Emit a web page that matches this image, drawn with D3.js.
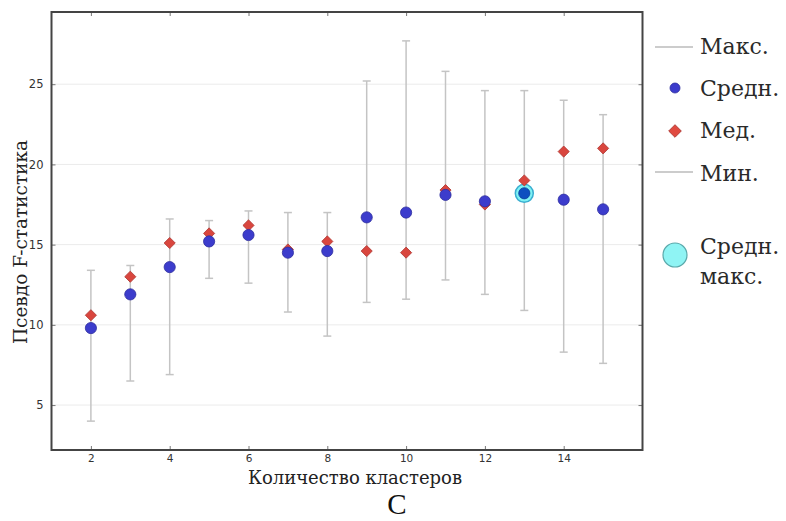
<!DOCTYPE html>
<html><head><meta charset="utf-8">
<script src="https://cdn.jsdelivr.net/npm/d3@7"></script>
<style>body{margin:0;background:#fff}svg{display:block}</style>
</head><body>
<svg id="c" width="786" height="521"></svg>
<script>
const clusters = [2,3,4,5,6,7,8,9,10,11,12,13,14,15];
const maxVals  = [13.4,13.7,16.6,16.5,17.1,17.0,17.0,25.2,27.7,25.8,24.6,24.6,24.0,23.1];
const minVals  = [4.0,6.5,6.9,12.9,12.6,10.8,9.3,11.4,11.6,12.8,11.9,10.9,8.3,7.6];
const meanVals = [9.8,11.9,13.6,15.2,15.6,14.5,14.6,16.7,17.0,18.1,17.7,18.2,17.8,17.2];
const medVals  = [10.6,13.0,15.1,15.7,16.2,14.7,15.2,14.6,14.5,18.4,17.5,19.0,20.8,21.0];
const bestK = 13;
const xTicks = [2,4,6,8,10,12,14];
const yTicks = [5,10,15,20,25];
const legendLabels = ["Макс.","Средн.","Мед.","Мин.","Средн.","макс."];

const svg = d3.select("#c");
const L=51.5, R=642.5, T=12, B=450;
const x = d3.scaleLinear().domain([1,16]).range([L,R]);
const y = d3.scaleLinear().domain([2.2,29.5]).range([B,T]);

// grid
svg.append("g").selectAll("line").data(yTicks).join("line")
  .attr("x1",L).attr("x2",R).attr("y1",d=>y(d)).attr("y2",d=>y(d))
  .attr("stroke","#ebebeb").attr("stroke-width",1);

// axes with inward ticks
const tickStyle = g => { g.select(".domain").remove(); g.selectAll(".tick line").attr("stroke","#777"); };
svg.append("g").attr("transform",`translate(0,${B})`)
  .call(d3.axisBottom(x).tickValues(xTicks).tickSize(-4).tickPadding(5).tickFormat(d3.format("d")))
  .call(tickStyle).call(g=>g.selectAll("text").attr("font-family","DejaVu Sans").attr("font-size",10.5).attr("fill","#333"));
svg.append("g").attr("transform",`translate(0,${T})`)
  .call(d3.axisTop(x).tickValues(xTicks).tickSize(-4).tickFormat(""))
  .call(tickStyle);
svg.append("g").attr("transform",`translate(${L},0)`)
  .call(d3.axisLeft(y).tickValues(yTicks).tickSize(-4).tickPadding(8).tickFormat(d3.format("d")))
  .call(tickStyle).call(g=>g.selectAll("text").attr("font-family","DejaVu Sans").attr("font-size",11.5).attr("fill","#333"));
svg.append("g").attr("transform",`translate(${R},0)`)
  .call(d3.axisRight(y).tickValues(yTicks).tickSize(-4).tickFormat(""))
  .call(tickStyle);

// frame
svg.append("rect").attr("x",L).attr("y",T).attr("width",R-L).attr("height",B-T)
  .attr("fill","none").attr("stroke","#444").attr("stroke-width",2);

const data = clusters.map((k,i)=>({k,max:maxVals[i],min:minVals[i],mean:meanVals[i],med:medVals[i]}));

// error bars
const eb = svg.append("g").attr("stroke","#c4c4c4").attr("stroke-width",1.5);
eb.selectAll(".v").data(data).join("line")
  .attr("x1",d=>x(d.k)).attr("x2",d=>x(d.k)).attr("y1",d=>y(d.max)).attr("y2",d=>y(d.min));
eb.selectAll(".t").data(data).join("line")
  .attr("x1",d=>x(d.k)-4).attr("x2",d=>x(d.k)+4).attr("y1",d=>y(d.max)).attr("y2",d=>y(d.max));
eb.selectAll(".b").data(data).join("line")
  .attr("x1",d=>x(d.k)-4).attr("x2",d=>x(d.k)+4).attr("y1",d=>y(d.min)).attr("y2",d=>y(d.min));

// highlight
const best = data.find(d=>d.k===bestK);
svg.append("circle").attr("cx",x(best.k)).attr("cy",y(best.mean)).attr("r",9)
  .attr("fill","#7ff2f4").attr("stroke","#3aaed0").attr("stroke-width",1.5);

// medians (diamonds)
svg.append("g").selectAll("path").data(data).join("path")
  .attr("d", d3.symbol().type(d3.symbolSquare).size(62))
  .attr("transform",d=>`translate(${x(d.k)},${y(d.med)}) rotate(45)`)
  .attr("fill","#d9463e").attr("stroke","#b03a35").attr("stroke-width",0.8);

// means (circles)
svg.append("g").selectAll("circle").data(data).join("circle")
  .attr("cx",d=>x(d.k)).attr("cy",d=>y(d.mean)).attr("r",5.6)
  .attr("fill",d=>d.k===bestK?"#0d4fc0":"#3c3ccc")
  .attr("stroke",d=>d.k===bestK?"#0a3d99":"#2d2d9e").attr("stroke-width",0.8);

// axis labels
svg.append("text").attr("x",355).attr("y",484).attr("text-anchor","middle")
  .attr("font-family","DejaVu Serif").attr("font-size",18).attr("fill","#222").text("Количество кластеров");
svg.append("text").attr("transform","translate(27,242) rotate(-90)").attr("text-anchor","middle")
  .attr("font-family","DejaVu Serif").attr("font-size",18.5).attr("fill","#222").text("Псевдо F-статистика");
svg.append("text").attr("x",397).attr("y",514).attr("text-anchor","middle")
  .attr("font-family","Liberation Serif").attr("font-size",29).attr("fill","#111").text("C");

// legend
const lg = svg.append("g").attr("font-family","DejaVu Serif").attr("font-size",22).attr("fill","#2a2a2a");
const ly = [54,96,138,181,254,284];
lg.append("line").attr("x1",655).attr("x2",693).attr("y1",47).attr("y2",47).attr("stroke","#999").attr("stroke-width",1);
lg.append("line").attr("x1",655).attr("x2",693).attr("y1",172).attr("y2",172).attr("stroke","#999").attr("stroke-width",1);
lg.append("circle").attr("cx",675).attr("cy",88).attr("r",5).attr("fill","#3c3ccc").attr("stroke","#2d2d9e").attr("stroke-width",0.8);
lg.append("path").attr("d", d3.symbol().type(d3.symbolSquare).size(80))
  .attr("transform","translate(675,131) rotate(45)").attr("fill","#e04a40").attr("stroke","#a8322c").attr("stroke-width",0.8);
lg.append("circle").attr("cx",675).attr("cy",255).attr("r",12).attr("fill","#8ff4f4").attr("stroke","#5aa8aa").attr("stroke-width",1.2);
lg.selectAll("text").data(legendLabels).join("text")
  .attr("x",700).attr("y",(d,i)=>ly[i]).text(d=>d);
</script>
</body></html>
